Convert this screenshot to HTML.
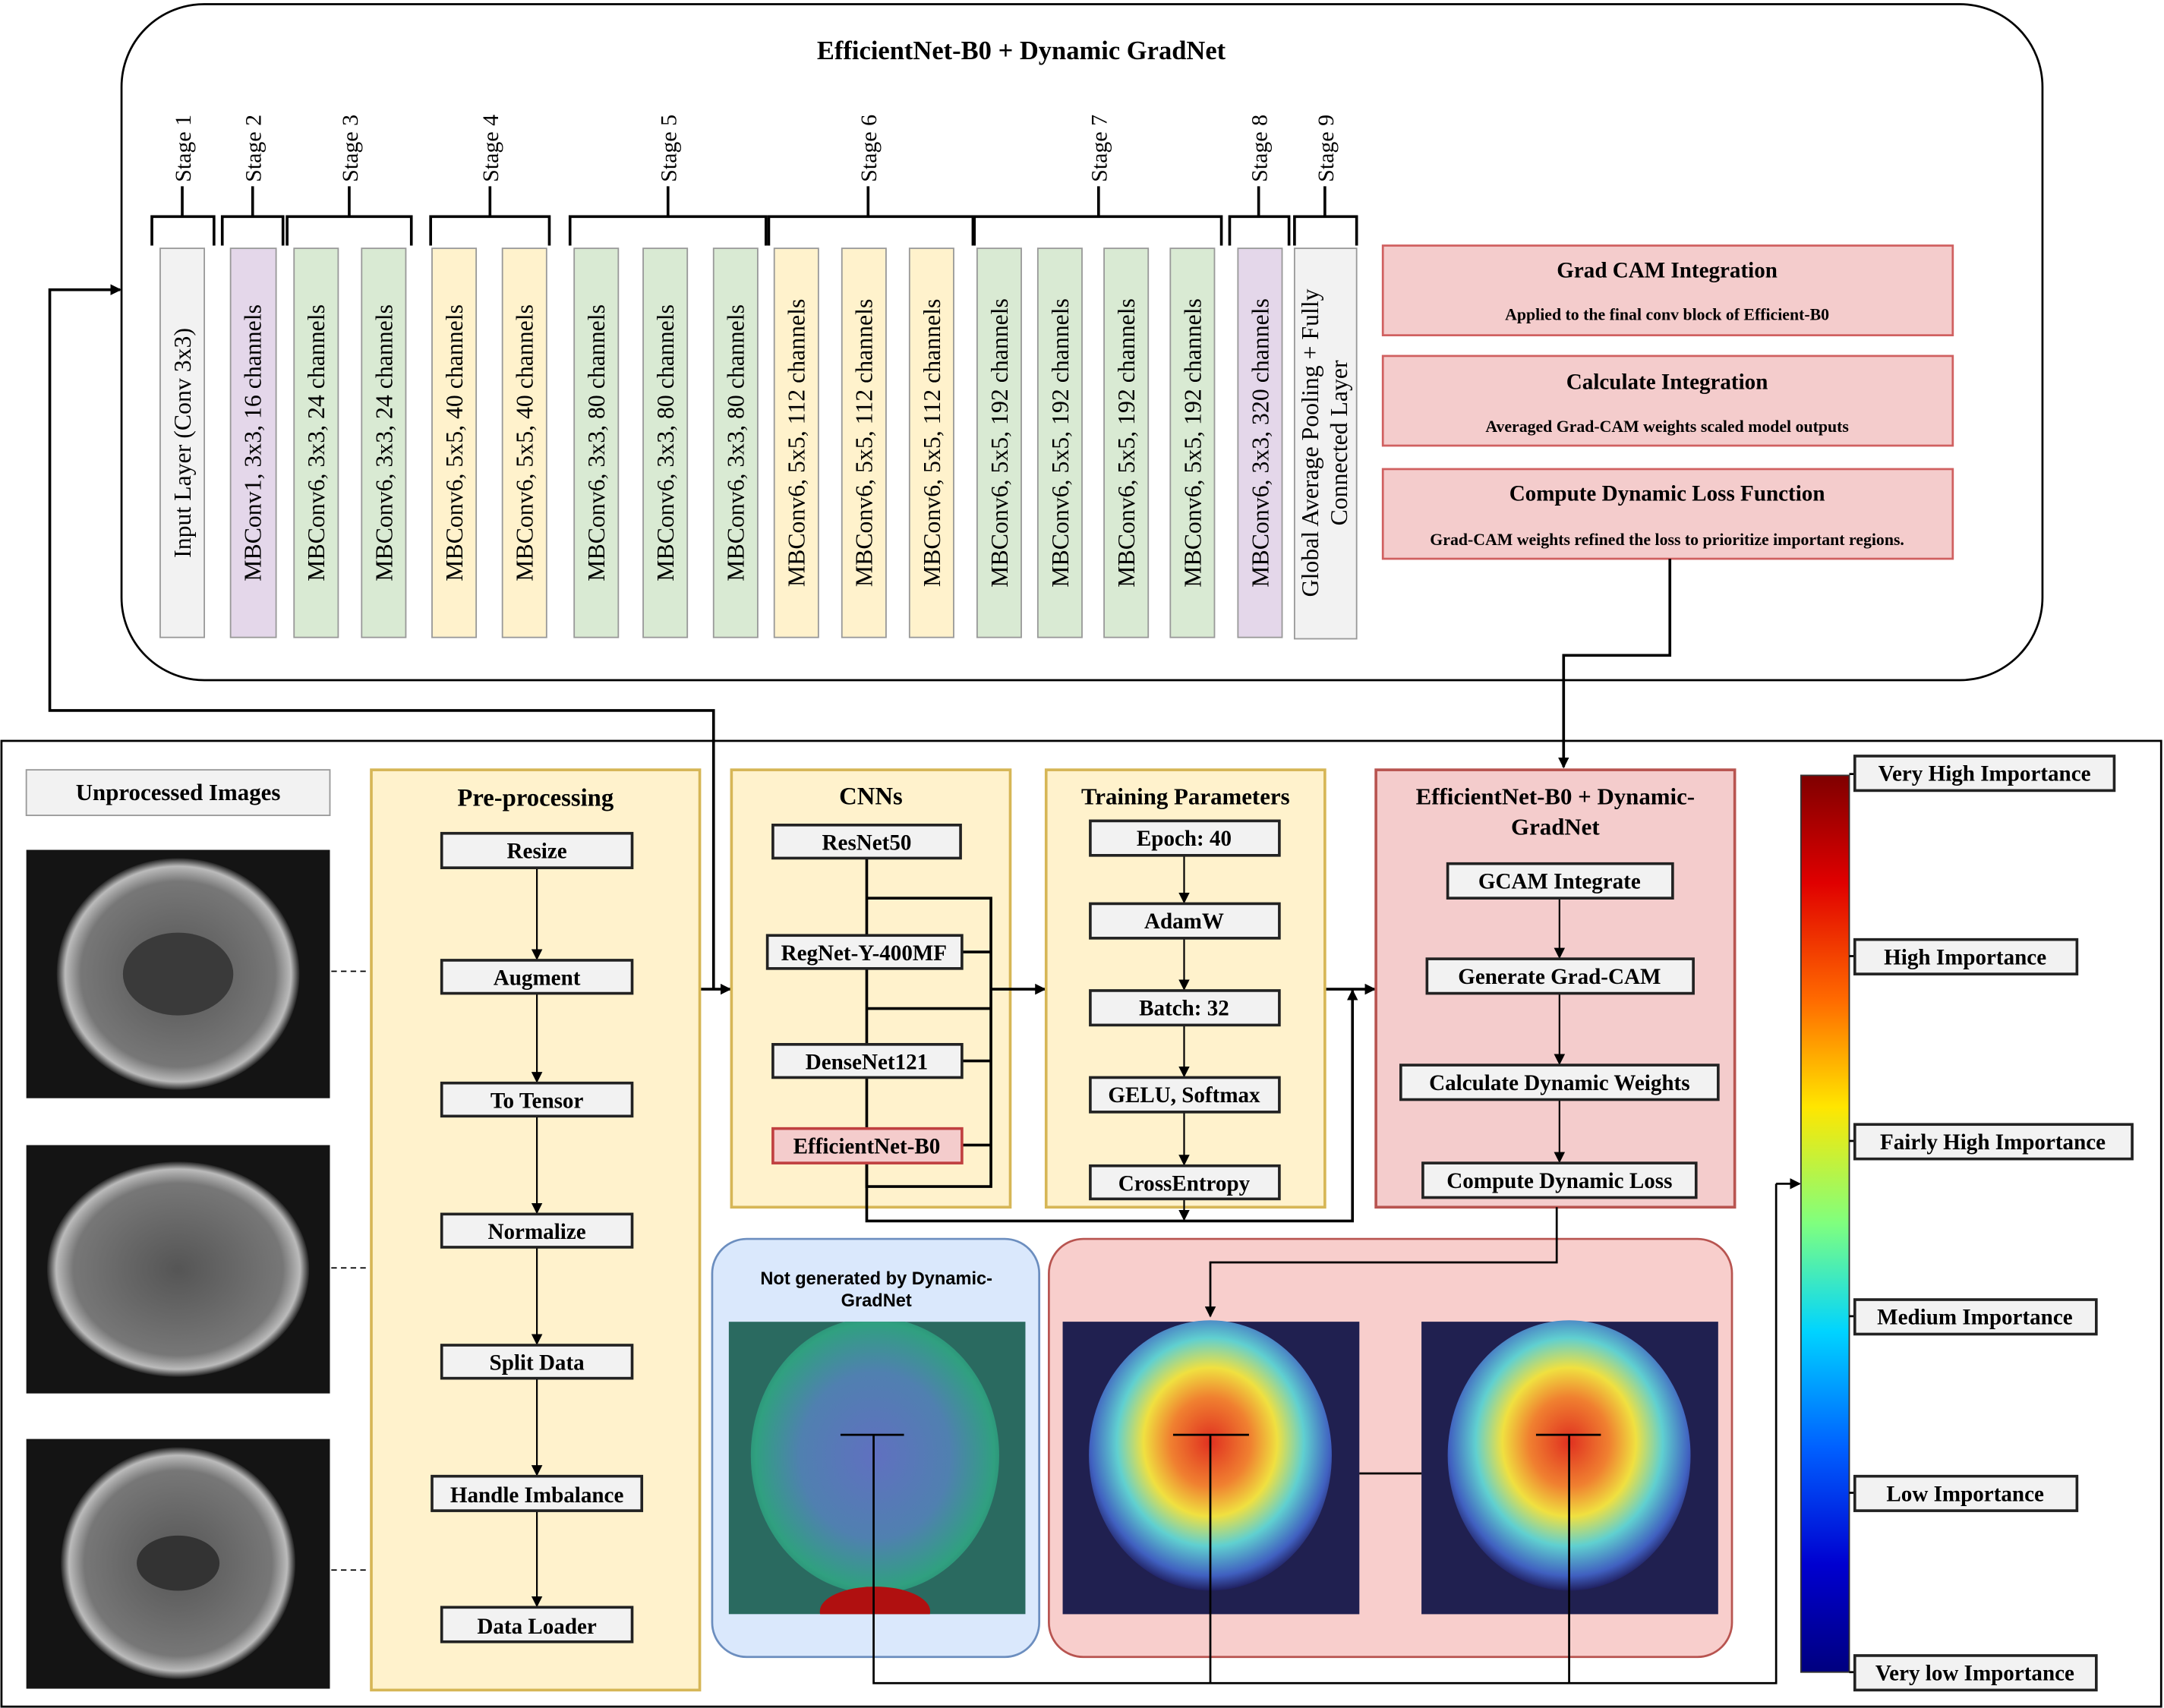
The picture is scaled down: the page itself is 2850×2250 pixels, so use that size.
<!DOCTYPE html>
<html><head><meta charset="utf-8"><style>html,body{margin:0;padding:0;background:#fff}svg{display:block}</style></head>
<body>
<svg xmlns="http://www.w3.org/2000/svg" width="2850" height="2250" viewBox="0 0 1568 1238" font-family="Liberation Serif, serif" font-weight="bold">
<defs>
<marker id="a" markerWidth="8" markerHeight="8" refX="7" refY="4" orient="auto" markerUnits="userSpaceOnUse"><path d="M0,0 L8,4 L0,8 z" fill="#000"/></marker>
<linearGradient id="jet" x1="0" y1="0" x2="0" y2="1">
<stop offset="0" stop-color="#7f0000"/><stop offset="0.12" stop-color="#e00000"/><stop offset="0.25" stop-color="#ff6a00"/><stop offset="0.37" stop-color="#ffe600"/><stop offset="0.5" stop-color="#7fff7f"/><stop offset="0.62" stop-color="#00d4ff"/><stop offset="0.75" stop-color="#0060ff"/><stop offset="0.88" stop-color="#0000d0"/><stop offset="1" stop-color="#00007f"/></linearGradient>
<radialGradient id="hm" cx="0.5" cy="0.45" r="0.55"><stop offset="0" stop-color="#e03020"/><stop offset="0.3" stop-color="#f08030"/><stop offset="0.5" stop-color="#f0e040"/><stop offset="0.7" stop-color="#60d0d0"/><stop offset="0.9" stop-color="#4060c0"/><stop offset="1" stop-color="#202060"/></radialGradient>
<radialGradient id="hm2" cx="0.5" cy="0.5" r="0.6"><stop offset="0" stop-color="#6070c0"/><stop offset="0.5" stop-color="#5080b0"/><stop offset="0.8" stop-color="#30a080"/><stop offset="1" stop-color="#207060"/></radialGradient>
<radialGradient id="br" cx="0.5" cy="0.5" r="0.5"><stop offset="0" stop-color="#555"/><stop offset="0.8" stop-color="#777"/><stop offset="0.93" stop-color="#bbb"/><stop offset="1" stop-color="#222"/></radialGradient>
<clipPath id="c1"><rect x="528" y="958" width="215" height="212"/></clipPath>
</defs>
<rect width="1568" height="1238" fill="#fff"/>
<rect x="88" y="3" width="1392" height="490" rx="60" fill="#fff" stroke="#000" stroke-width="1.5"/>
<text x="740" y="43" font-size="19" text-anchor="middle">EfficientNet-B0 + Dynamic GradNet</text>
<g stroke="#999" stroke-width="1">
<rect x="116" y="180" width="32" height="282" fill="#f2f2f2"/>
<rect x="167" y="180" width="33" height="282" fill="#e4d7ea"/>
<rect x="213" y="180" width="32" height="282" fill="#d9ead3"/>
<rect x="262" y="180" width="32" height="282" fill="#d9ead3"/>
<rect x="313" y="180" width="32" height="282" fill="#fff2cc"/>
<rect x="364" y="180" width="32" height="282" fill="#fff2cc"/>
<rect x="416" y="180" width="32" height="282" fill="#d9ead3"/>
<rect x="466" y="180" width="32" height="282" fill="#d9ead3"/>
<rect x="517" y="180" width="32" height="282" fill="#d9ead3"/>
<rect x="561" y="180" width="32" height="282" fill="#fff2cc"/>
<rect x="610" y="180" width="32" height="282" fill="#fff2cc"/>
<rect x="659" y="180" width="32" height="282" fill="#fff2cc"/>
<rect x="708" y="180" width="32" height="282" fill="#d9ead3"/>
<rect x="752" y="180" width="32" height="282" fill="#d9ead3"/>
<rect x="800" y="180" width="32" height="282" fill="#d9ead3"/>
<rect x="848" y="180" width="32" height="282" fill="#d9ead3"/>
<rect x="897" y="180" width="32" height="282" fill="#e4d7ea"/>
<rect x="938" y="180" width="45" height="283" fill="#f2f2f2"/>
</g>
<g font-size="17.5" font-weight="normal" fill="#000" text-anchor="middle">
<text transform="translate(138,321) rotate(-90)">Input Layer (Conv 3x3)</text>
<text transform="translate(189,321) rotate(-90)">MBConv1, 3x3, 16 channels</text>
<text transform="translate(235,321) rotate(-90)">MBConv6, 3x3, 24 channels</text>
<text transform="translate(284,321) rotate(-90)">MBConv6, 3x3, 24 channels</text>
<text transform="translate(335,321) rotate(-90)">MBConv6, 5x5, 40 channels</text>
<text transform="translate(386,321) rotate(-90)">MBConv6, 5x5, 40 channels</text>
<text transform="translate(438,321) rotate(-90)">MBConv6, 3x3, 80 channels</text>
<text transform="translate(488,321) rotate(-90)">MBConv6, 3x3, 80 channels</text>
<text transform="translate(539,321) rotate(-90)">MBConv6, 3x3, 80 channels</text>
<text transform="translate(583,321) rotate(-90)">MBConv6, 5x5, 112 channels</text>
<text transform="translate(632,321) rotate(-90)">MBConv6, 5x5, 112 channels</text>
<text transform="translate(681,321) rotate(-90)">MBConv6, 5x5, 112 channels</text>
<text transform="translate(730,321) rotate(-90)">MBConv6, 5x5, 192 channels</text>
<text transform="translate(774,321) rotate(-90)">MBConv6, 5x5, 192 channels</text>
<text transform="translate(822,321) rotate(-90)">MBConv6, 5x5, 192 channels</text>
<text transform="translate(870,321) rotate(-90)">MBConv6, 5x5, 192 channels</text>
<text transform="translate(919,321) rotate(-90)">MBConv6, 3x3, 320 channels</text>
<text transform="translate(955,321) rotate(-90)">Global Average Pooling + Fully</text>
<text transform="translate(976,321) rotate(-90)">Connected Layer</text>
</g>
<g stroke="#000" stroke-width="2" fill="none">
<path d="M110,178 V157 H155 V178 M132,157 V135"/>
<path d="M161,178 V157 H205 V178 M183,157 V135"/>
<path d="M208,178 V157 H298 V178 M253,157 V135"/>
<path d="M312,178 V157 H398 V178 M355,157 V135"/>
<path d="M413,178 V157 H555 V178 M484,157 V135"/>
<path d="M557,178 V157 H705 V178 M629,157 V135"/>
<path d="M706,178 V157 H885 V178 M796,157 V135"/>
<path d="M891,178 V157 H934 V178 M912,157 V135"/>
<path d="M938,178 V157 H983 V178 M960,157 V135"/>
</g>
<g font-size="16.5" font-weight="normal" text-anchor="start">
<text transform="translate(138,132) rotate(-90)">Stage 1</text>
<text transform="translate(189,132) rotate(-90)">Stage 2</text>
<text transform="translate(259,132) rotate(-90)">Stage 3</text>
<text transform="translate(361,132) rotate(-90)">Stage 4</text>
<text transform="translate(490,132) rotate(-90)">Stage 5</text>
<text transform="translate(635,132) rotate(-90)">Stage 6</text>
<text transform="translate(802,132) rotate(-90)">Stage 7</text>
<text transform="translate(918,132) rotate(-90)">Stage 8</text>
<text transform="translate(966,132) rotate(-90)">Stage 9</text>
</g>
<g fill="#f4cccc" stroke="#d06060" stroke-width="1.5">
<rect x="1002" y="178" width="413" height="65"/>
<rect x="1002" y="258" width="413" height="65"/>
<rect x="1002" y="340" width="413" height="65"/>
</g>
<g text-anchor="middle">
<text x="1208" y="201" font-size="16">Grad CAM Integration</text>
<text x="1208" y="232" font-size="12">Applied to the final conv block of Efficient-B0</text>
<text x="1208" y="282" font-size="16">Calculate Integration</text>
<text x="1208" y="313" font-size="12">Averaged Grad-CAM weights scaled model outputs</text>
<text x="1208" y="363" font-size="16">Compute Dynamic Loss Function</text>
<text x="1208" y="395" font-size="12">Grad-CAM weights refined the loss to prioritize important regions.</text>
</g>
<g stroke="#000" stroke-width="2" fill="none">
<path d="M1210,405 V475 H1133 V556" marker-end="url(#a)"/>
<path d="M517,717 V515 H36 V210 H87" marker-end="url(#a)"/>
<path d="M507,717 H529" marker-end="url(#a)"/>
</g>
<rect x="1" y="537" width="1565" height="700" fill="none" stroke="#000" stroke-width="1.5"/>
<rect x="19" y="558" width="220" height="33" fill="#f2f2f2" stroke="#999"/>
<text x="129" y="580" font-size="17" text-anchor="middle">Unprocessed Images</text>
<g>
<rect x="19" y="616" width="220" height="180" fill="#141414"/>
<ellipse cx="129" cy="706" rx="88" ry="84" fill="url(#br)"/>
<ellipse cx="129" cy="706" rx="40" ry="30" fill="#3a3a3a"/>
<rect x="19" y="830" width="220" height="180" fill="#141414"/>
<ellipse cx="129" cy="920" rx="95" ry="78" fill="url(#br)"/>
<rect x="19" y="1043" width="220" height="181" fill="#141414"/>
<ellipse cx="129" cy="1133" rx="85" ry="84" fill="url(#br)"/>
<ellipse cx="129" cy="1133" rx="30" ry="20" fill="#333"/>
</g>
<g stroke="#000" stroke-dasharray="4,3" stroke-width="1">
<path d="M240,704 H268 M240,919 H268 M240,1138 H268"/>
</g>
<rect x="269" y="558" width="238" height="667" fill="#fff2cc" stroke="#d6b656" stroke-width="2"/>
<text x="388" y="584" font-size="18" text-anchor="middle">Pre-processing</text>
<g stroke="#000" stroke-width="1.2" fill="none" marker-end="url(#a)">
<path d="M389,629 V695"/><path d="M389,720 V784"/><path d="M389,809 V879"/><path d="M389,904 V974"/><path d="M389,999 V1069"/><path d="M389,1095 V1164"/>
</g>
<g fill="#f2f2f2" stroke="#222" stroke-width="2">
<rect x="320" y="604" width="138" height="25"/><rect x="320" y="696" width="138" height="24"/>
<rect x="320" y="785" width="138" height="24"/><rect x="320" y="880" width="138" height="24"/>
<rect x="320" y="975" width="138" height="24"/><rect x="313" y="1070" width="152" height="25"/>
<rect x="320" y="1165" width="138" height="25"/>
</g>
<g font-size="16" text-anchor="middle">
<text x="389" y="622">Resize</text><text x="389" y="714">Augment</text><text x="389" y="803">To Tensor</text>
<text x="389" y="898">Normalize</text><text x="389" y="993">Split Data</text><text x="389" y="1089">Handle Imbalance</text>
<text x="389" y="1184">Data Loader</text>
</g>
<rect x="530" y="558" width="202" height="317" fill="#fff2cc" stroke="#d6b656" stroke-width="2"/>
<text x="631" y="583" font-size="18" text-anchor="middle">CNNs</text>
<g stroke="#000" stroke-width="2" fill="none">
<path d="M628,622 V818"/>
<path d="M628,651 H718 V860 H628 V843 M697,690 H718 M628,731 H718 M697,769 H718 M697,830 H718"/>
<path d="M718,717 H757" marker-end="url(#a)"/>
<path d="M628,843 V885 H980 V718" marker-end="url(#a)"/>
<path d="M960,717 H996" marker-end="url(#a)"/>
</g>
<g fill="#f2f2f2" stroke="#222" stroke-width="2">
<rect x="560" y="598" width="136" height="24"/><rect x="556" y="678" width="141" height="24"/>
<rect x="560" y="757" width="137" height="24"/>
<rect x="560" y="818" width="137" height="25" fill="#f4cccc" stroke="#c04040"/>
</g>
<g font-size="16" text-anchor="middle">
<text x="628" y="616">ResNet50</text><text x="626" y="696">RegNet-Y-400MF</text>
<text x="628" y="775">DenseNet121</text><text x="628" y="836">EfficientNet-B0</text>
</g>
<rect x="758" y="558" width="202" height="317" fill="#fff2cc" stroke="#d6b656" stroke-width="2"/>
<text x="859" y="583" font-size="17" text-anchor="middle">Training Parameters</text>
<g stroke="#000" stroke-width="1.2" fill="none" marker-end="url(#a)">
<path d="M858,620 V654"/><path d="M858,680 V717"/><path d="M858,743 V780"/><path d="M858,806 V844"/><path d="M858,869 V884"/>
</g>
<g fill="#f2f2f2" stroke="#222" stroke-width="2">
<rect x="790" y="595" width="137" height="25"/><rect x="790" y="655" width="137" height="25"/>
<rect x="790" y="718" width="137" height="25"/><rect x="790" y="781" width="137" height="25"/>
<rect x="790" y="845" width="137" height="24"/>
</g>
<g font-size="16" text-anchor="middle">
<text x="858" y="613">Epoch: 40</text><text x="858" y="673">AdamW</text><text x="858" y="736">Batch: 32</text>
<text x="858" y="799">GELU, Softmax</text><text x="858" y="863">CrossEntropy</text>
</g>
<rect x="997" y="558" width="260" height="317" fill="#f4cccc" stroke="#b85450" stroke-width="2"/>
<text x="1127" y="583" font-size="17" text-anchor="middle">EfficientNet-B0 + Dynamic-</text>
<text x="1127" y="605" font-size="17" text-anchor="middle">GradNet</text>
<g stroke="#000" stroke-width="1.2" fill="none" marker-end="url(#a)">
<path d="M1130,651 V694"/><path d="M1130,720 V771"/><path d="M1130,797 V842"/>
</g>
<g fill="#f2f2f2" stroke="#222" stroke-width="2">
<rect x="1049" y="626" width="163" height="25"/><rect x="1034" y="695" width="193" height="25"/>
<rect x="1015" y="772" width="230" height="25"/><rect x="1031" y="843" width="198" height="25"/>
</g>
<g font-size="16" text-anchor="middle">
<text x="1130" y="644">GCAM Integrate</text><text x="1130" y="713">Generate Grad-CAM</text>
<text x="1130" y="790">Calculate Dynamic Weights</text><text x="1130" y="861">Compute Dynamic Loss</text>
</g>
<rect x="516" y="898" width="237" height="303" rx="25" fill="#dae8fc" stroke="#6c8ebf" stroke-width="1.5"/>
<text x="635" y="931" font-size="13" font-family="Liberation Sans, sans-serif" text-anchor="middle">Not generated by Dynamic-</text>
<text x="635" y="947" font-size="13" font-family="Liberation Sans, sans-serif" text-anchor="middle">GradNet</text>
<g clip-path="url(#c1)">
<rect x="528" y="958" width="215" height="212" fill="#2a6a60"/>
<ellipse cx="634" cy="1055" rx="90" ry="100" fill="url(#hm2)"/>
<ellipse cx="634" cy="1168" rx="40" ry="18" fill="#b01010"/>
</g>
<rect x="760" y="898" width="495" height="303" rx="25" fill="#f8cecc" stroke="#b85450" stroke-width="1.5"/>
<rect x="770" y="958" width="215" height="212" fill="#202050"/>
<ellipse cx="877" cy="1055" rx="88" ry="98" fill="url(#hm)"/>
<rect x="1030" y="958" width="215" height="212" fill="#202050"/>
<ellipse cx="1137" cy="1055" rx="88" ry="98" fill="url(#hm)"/>
<g stroke="#000" stroke-width="1.5" fill="none">
<path d="M1128,875 V915 H877 V954" marker-end="url(#a)"/>
<path d="M985,1068 H1030"/>
<path d="M609,1040 H655 M850,1040 H905 M1113,1040 H1160"/>
<path d="M633,1040 V1220 H1287 V858 M877,1040 V1220 M1137,1040 V1220"/>
<path d="M1287,858 H1304" marker-end="url(#a)"/>
</g>
<rect x="1305" y="562" width="35" height="650" fill="url(#jet)" stroke="#333"/>
<g stroke="#000" stroke-width="1.5"><path d="M1340,561 H1344 M1340,693 H1344 M1340,827 H1344 M1340,954 H1344 M1340,1082 H1344 M1340,1212 H1344"/></g>
<g fill="#f2f2f2" stroke="#222" stroke-width="2">
<rect x="1344" y="548" width="188" height="25"/><rect x="1344" y="681" width="161" height="25"/>
<rect x="1344" y="815" width="201" height="25"/><rect x="1344" y="942" width="175" height="25"/>
<rect x="1344" y="1070" width="161" height="25"/><rect x="1344" y="1200" width="175" height="25"/>
</g>
<g font-size="16" text-anchor="middle">
<text x="1438" y="566">Very High Importance</text><text x="1424" y="699">High Importance</text>
<text x="1444" y="833">Fairly High Importance</text><text x="1431" y="960">Medium Importance</text>
<text x="1424" y="1088">Low Importance</text><text x="1431" y="1218">Very low Importance</text>
</g>
</svg>
</body></html>
